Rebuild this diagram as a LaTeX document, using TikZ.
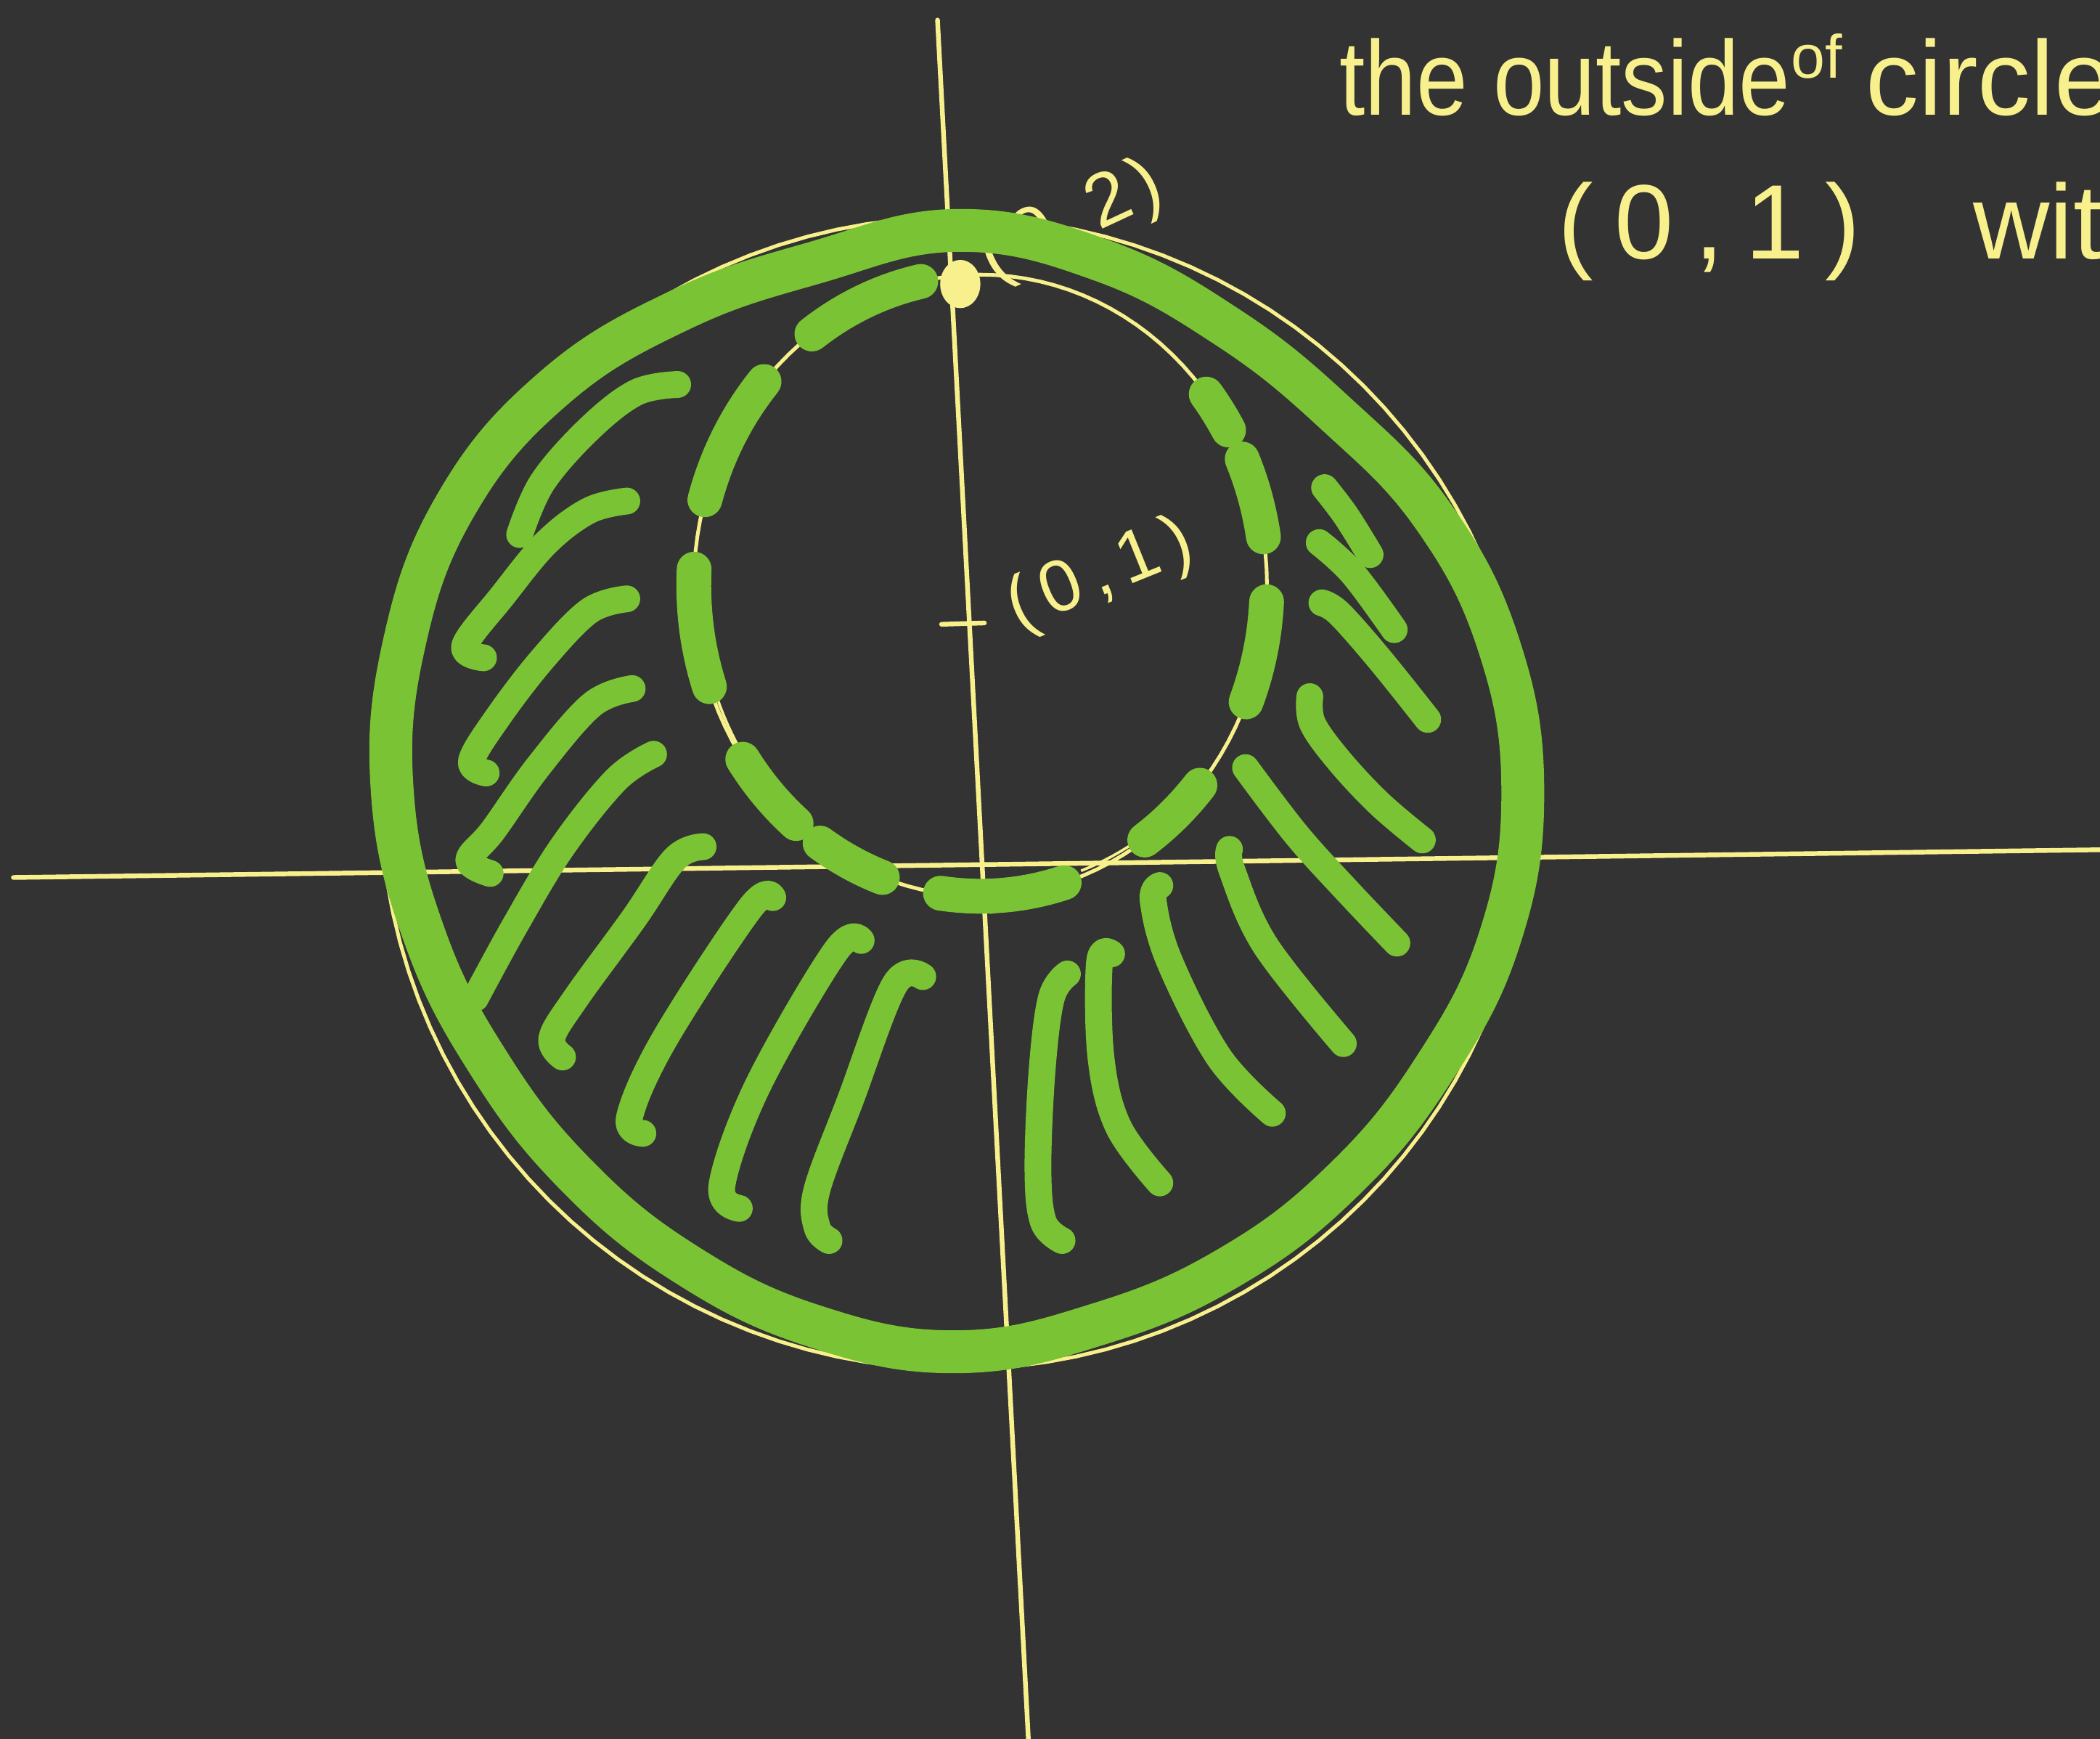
\documentclass[tikz,border=0pt]{standalone}
\usepackage{fontspec}
\setmainfont{Liberation Sans}
\definecolor{bg}{RGB}{51,51,51}
\definecolor{gr}{RGB}{122,195,52}
\definecolor{yl}{RGB}{247,240,140}
\begin{document}
\begin{tikzpicture}[x=0.02cm,y=-0.02cm,
  axis/.style={yl, line width=0.07cm, line cap=round},
  ycirc/.style={yl, line width=0.055cm},
  gband/.style={gr, line width=0.64cm, line cap=round, line join=round},
  gdash/.style={gr, line width=0.52cm, line cap=round},
  hatch/.style={gr, line width=0.4cm, line cap=round, line join=round},
  hand/.style={yl, inner sep=0pt, font=\fontsize{45}{54}\selectfont},
  smalllab/.style={yl, inner sep=0pt}]
\useasboundingbox (0,0) rectangle (1568,1298);
\clip (0,0) rectangle (1568,1298);
\fill[bg] (0,0) rectangle (1568,1298);

% axes
\coordinate (xl) at (10,655);
\coordinate (xr) at (1590,634);
\coordinate (yt) at (700,15);
\coordinate (yb) at (769,1320);
\draw[axis] (xl) -- (xr);
\draw[axis] (yt) -- (yb);

% tick at (0,1)
\coordinate (tk1) at (703,466);
\coordinate (tk2) at (735,465);
\draw[axis] (tk1) -- (tk2);

% big yellow circle and inner yellow circle
\draw[ycirc] plot[domain=0:360, samples=121, variable=\t] ({714+430*cos(\t)},{592+430*sin(\t)});
\draw[ycirc] plot[domain=0:360, samples=121, variable=\t] ({732+214*cos(\t)},{437+232*sin(\t)});
\draw[yl, line width=0.04cm] plot[domain=40:70, samples=15, variable=\t] ({734+214*cos(\t)},{432+232*sin(\t)});
\draw[yl, line width=0.04cm] plot[domain=150:168, samples=10, variable=\t] ({736+214*cos(\t)},{440+232*sin(\t)});

% yellow blobs
\fill[yl] (717,212) ellipse [x radius=15, y radius=18];
\fill[yl] (740,674) ellipse [x radius=9, y radius=8];

% labels on the axis
\node[smalllab, rotate=25, font=\fontsize{32}{36}\selectfont] (c2) at (800,166) {(\kern.15em0\kern.1em,\kern.15em2\kern.1em)};
\node[smalllab, rotate=22, font=\fontsize{31}{36}\selectfont] (c1) at (822,430) {(\kern.15em0\kern.15em,\kern.15em1\kern.15em)};

% green outer circle
\begin{scope}[shift={(715,592)}]
\draw[gband] plot[smooth cycle, tension=0.7] coordinates {
 (-90:420) (-75:412) (-60:402) (-45:400) (-30:411) (-15:419) (0:422)
 (15:419) (30:411) (45:408) (60:408) (75:410) (90:417) (105:412)
 (120:406) (135:403) (150:404) (165:412) (180:422) (195:428) (210:432)
 (225:427) (240:416) (255:410)};
\end{scope}

% green dashed inner circle
\foreach \a/\b in {234/258, 196/221, 161/183, 130/146, 110/124, 73/98, 40/55, 3/22, -24/-9, -38/-30}
  \draw[gdash] plot[domain=\a:\b, samples=15, variable=\t] ({732+214*cos(\t)},{437+232*sin(\t)});

% hatching, left
\draw[hatch] plot[smooth, tension=0.6] coordinates {(506,287) (475,293) (440,320) (405,360) (388,399)};
\draw[hatch] plot[smooth, tension=0.6] coordinates {(468,374) (440,381) (408,405) (375,445) (347,482) (361,491)};
\draw[hatch] plot[smooth, tension=0.6] coordinates {(468,447) (440,456) (405,492) (372,535) (352,568) (363,577)};
\draw[hatch] plot[smooth, tension=0.6] coordinates {(472,514) (442,526) (402,572) (368,620) (350,642) (366,652)};
\draw[hatch] plot[smooth, tension=0.6] coordinates {(488,563) (460,582) (420,632) (385,690) (355,745)};
\draw[hatch] plot[smooth, tension=0.6] coordinates {(525,632) (504,641) (473,686) (430,745) (412,775) (420,789)};
\draw[hatch] plot[smooth, tension=0.6] coordinates {(577,670) (560,678) (496,776) (470,834) (480,846)};
\draw[hatch] plot[smooth, tension=0.6] coordinates {(643,702) (624,710) (566,810) (539,885) (552,902)};
\draw[hatch] plot[smooth, tension=0.6] coordinates {(689,729) (668,735) (635,821) (610,888) (610,916) (619,926)};
% hatching, right
\draw[hatch] plot[smooth, tension=0.6] coordinates {(797,727) (785,745) (778,800) (775,873) (779,912) (793,926)};
\draw[hatch] plot[smooth, tension=0.6] coordinates {(830,712) (821,718) (822,789) (835,841) (866,883)};
\draw[hatch] plot[smooth, tension=0.6] coordinates {(866,661) (861,672) (873,717) (910,789) (950,831)};
\draw[hatch] plot[smooth, tension=0.6] coordinates {(918,634) (920,650) (945,706) (1003,779)};
\draw[hatch] plot[smooth, tension=0.6] coordinates {(930,573) (968,623) (1005,664) (1043,704)};
\draw[hatch] plot[smooth, tension=0.6] coordinates {(978,520) (980,540) (1000,568) (1030,600) (1062,627)};
\draw[hatch] plot[smooth, tension=0.6] coordinates {(987,450) (1000,458) (1030,492) (1066,537)};
\draw[hatch] plot[smooth, tension=0.6] coordinates {(985,405) (1010,428) (1041,470)};
\draw[hatch] plot[smooth, tension=0.6] coordinates {(989,364) (1005,385) (1023,414)};

% handwritten text, top right
\node[hand, anchor=base west, xscale=0.87] (t1) at (1000,86) {the outside};
\node[hand, anchor=base west, font=\fontsize{26}{30}\selectfont] (t2) at (1337,58) {of};
\node[hand, anchor=base west] (t3) at (1393,86) {circle};
\node[hand, anchor=base west] (t4) at (1163,193) {(\kern.2em0\kern.2em,\kern.2em1\kern.2em)};
\node[hand, anchor=base west] (t5) at (1473,193) {with};
\end{tikzpicture}
\end{document}
